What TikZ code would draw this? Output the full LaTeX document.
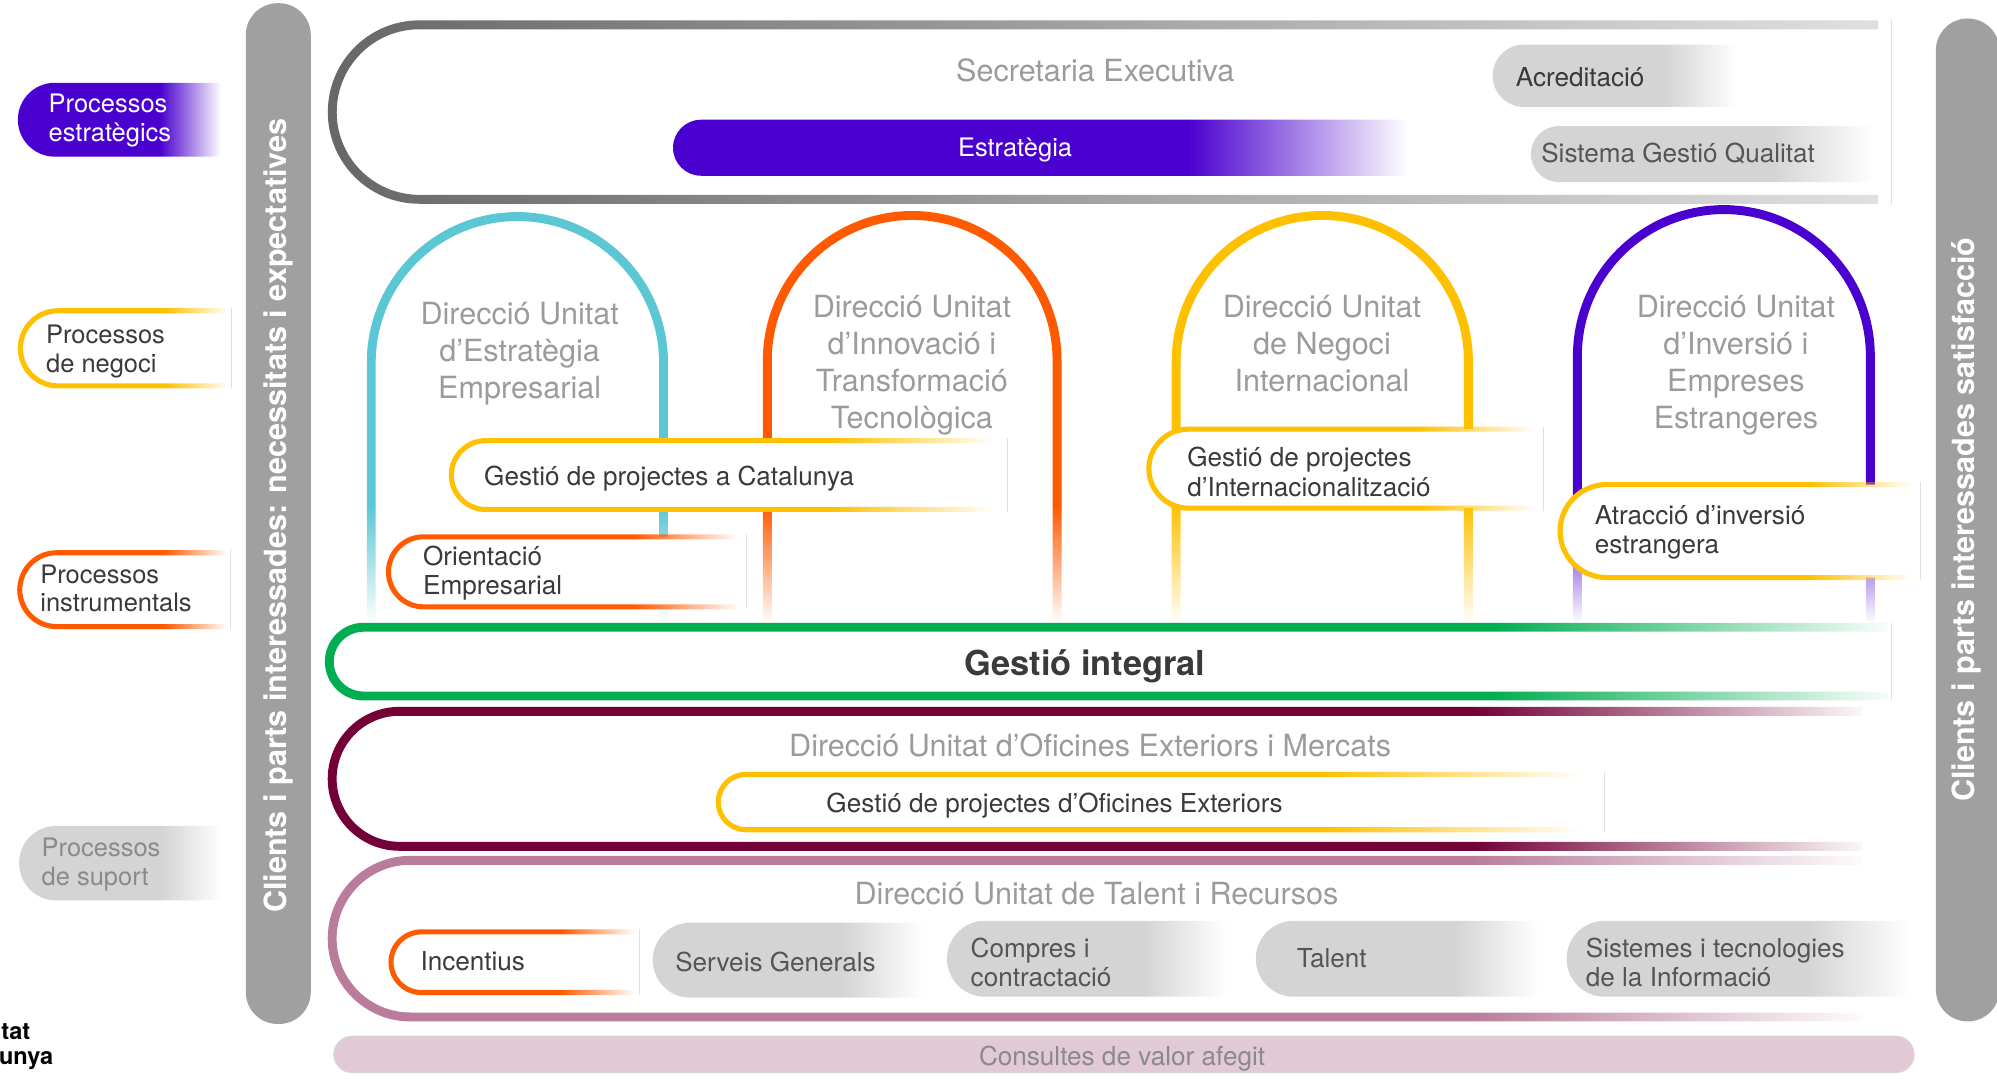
\documentclass[tikz,border=0pt]{standalone}
\usepackage{fontspec}
\setmainfont{TeX Gyre Heros}
\usetikzlibrary{fadings}

\definecolor{morat}{HTML}{4A00CE}
\definecolor{groc}{HTML}{FFC000}
\definecolor{taronja}{HTML}{FF5A00}
\definecolor{cian}{HTML}{5BC6D4}
\definecolor{verd}{HTML}{00AD50}
\definecolor{grana}{HTML}{730036}
\definecolor{malva}{HTML}{B97D9B}
\definecolor{rosa}{HTML}{E2C9D6}
\definecolor{barra}{HTML}{A0A0A0}
\definecolor{gris}{HTML}{D4D4D4}
\definecolor{grisvora}{HTML}{676767}
\definecolor{titolgris}{HTML}{9B9B9B}
\definecolor{grisclar}{HTML}{8A8A8A}
\definecolor{fosc}{HTML}{3A3A3A}
\definecolor{mitja}{HTML}{555555}

% esvaits cap a la dreta i cap avall (el camí ocupa de 25bp a 75bp)
\pgfdeclarehorizontalshading{ombrapindola}{100bp}{rgb(0bp)=(1,1,1); rgb(59bp)=(1,1,1); rgb(73.5bp)=(0,0,0); rgb(100bp)=(0,0,0)}
\pgfdeclarehorizontalshading{ombrafranja}{100bp}{rgb(0bp)=(1,1,1); rgb(62bp)=(1,1,1); rgb(75bp)=(0,0,0); rgb(100bp)=(0,0,0)}
\pgfdeclarehorizontalshading{ombragris}{100bp}{rgb(0bp)=(1,1,1); rgb(25bp)=(1,1,1); rgb(75bp)=(0.2,0.2,0.2); rgb(100bp)=(0.2,0.2,0.2)}
\pgfdeclareverticalshading{ombracolumna}{100bp}{rgb(0bp)=(0,0,0); rgb(26bp)=(0,0,0); rgb(40bp)=(1,1,1); rgb(100bp)=(1,1,1)}
\tikzfading[name=esvairpindola, shading=ombrapindola]
\tikzfading[name=esvairfranja, shading=ombrafranja]
\tikzfading[name=esvairgris, shading=ombragris]
\tikzfading[name=esvaircolumna, shading=ombracolumna]

\tikzstyle{titol} = [text=titolgris, font=\fontsize{24}{29}\selectfont, align=center, inner sep=0pt]
\tikzstyle{proces} = [text=fosc, font=\fontsize{20.5}{23}\selectfont, align=left, anchor=west, inner sep=0pt, yshift=-2.5pt]
\tikzstyle{llegenda} = [font=\fontsize{20}{22.5}\selectfont, align=left, anchor=west, inner sep=0pt, yshift=-2.5pt]
\tikzstyle{lateral} = [text=white, font=\bfseries\fontsize{24}{28}\selectfont, rotate=90, inner sep=0pt]
\tikzstyle{columna} = [line width=7pt, path fading=esvaircolumna]
\tikzstyle{franja} = [line width=7pt, path fading=esvairfranja]
\tikzstyle{contorn} = [line width=4pt, path fading=esvairpindola]
\tikzstyle{farciment} = [path fading=esvairpindola]
\tikzstyle{vora} = [line width=0.6pt, black!12]

\begin{document}
\begin{tikzpicture}[x=1pt, y=-1pt]
\useasboundingbox (0,0) rectangle (1568,849);

% llegenda
\fill[morat, rounded corners=29pt, farciment] (178,65) -- (14,65) -- (14,123) -- (178,123);
\node (pestrat) at (38,92) [llegenda, text=white] {Processos\\estratègics};
\draw[vora] (182,242) -- (182,305);
\draw[groc, contorn, rounded corners=29.5pt] (182,244) -- (16,244) -- (16,303) -- (182,303);
\node (pnegoci) at (36,273.5) [llegenda, text=fosc] {Processos\\de negoci};
\draw[vora] (181,432) -- (181,494);
\draw[taronja, contorn, rounded corners=29pt] (181,434) -- (15.5,434) -- (15.5,492) -- (181,492);
\node (pinstr) at (31.5,459.5) [llegenda, text=fosc] {Processos\\instrumentals};
\fill[gris, rounded corners=29pt, farciment] (179,648.5) -- (15,648.5) -- (15,707) -- (179,707);
\node (psuport) at (32.5,676.5) [llegenda, text=grisclar] {Processos\\de suport};

% barres laterals
\fill[barra, rounded corners=25pt] (193,2.5) rectangle (244,804);
\node (necessitats) at (218.5,405) [lateral] {Clients i parts interessades: necessitats i expectatives};
\fill[barra, rounded corners=25pt] (1520,14.5) rectangle (1570,802);
\node (satisfaccio) at (1544,408) [lateral] {Clients i parts interessades satisfacció};

% secretaria
\draw[vora] (1485,15) -- (1485,161);
\draw[grisvora, line width=7pt, rounded corners=68.5pt, path fading=esvairgris] (1478,19.5) -- (262,19.5) -- (262,156.5) -- (1478,156.5);
\node (secretaria) at (860,55) [titol] {Secretaria Executiva};
\fill[morat, rounded corners=22pt, farciment] (1122,94) -- (528.5,94) -- (528.5,138) -- (1122,138);
\node (estrategia) at (797,115.5) [llegenda, anchor=center, text=white] {Estratègia};
\fill[gris, rounded corners=24.5pt, farciment] (1370,35) -- (1172,35) -- (1172,84) -- (1370,84);
\node (acreditacio) at (1190,58) [proces] {Acreditació};
\fill[gris, rounded corners=22pt, farciment] (1480,99) -- (1202,99) -- (1202,143) -- (1480,143);
\node (qualitat) at (1210,118) [proces, text=mitja] {Sistema Gestió Qualitat};

% direccions de negoci
\draw[cian, columna, rounded corners=114.75pt] (291.5,492) -- (291.5,170) -- (521,170) -- (521,492);
\draw[taronja, columna, rounded corners=113.75pt] (602.5,492) -- (602.5,169) -- (830,169) -- (830,492);
\draw[groc, columna, rounded corners=114.75pt] (923.5,492) -- (923.5,169) -- (1153,169) -- (1153,492);
\draw[morat, columna, rounded corners=115pt] (1238.5,492) -- (1238.5,164.5) -- (1468.5,164.5) -- (1468.5,492);
\node (dempresarial) at (408,278) [titol] {Direcció Unitat\\d’Estratègia\\Empresarial};
\node (dinnovacio) at (716,286.5) [titol] {Direcció Unitat\\d’Innovació i\\Transformació\\Tecnològica};
\node (dnegoci) at (1038,270) [titol] {Direcció Unitat\\de Negoci\\Internacional};
\node (dinversio) at (1363,286.5) [titol] {Direcció Unitat\\d’Inversió i\\Empreses\\Estrangeres};

% processos
\fill[white, rounded corners=27pt] (791,346) -- (354.5,346) -- (354.5,400) -- (791,400);
\draw[vora] (791,344) -- (791,402);
\draw[groc, contorn, rounded corners=27pt] (791,346) -- (354.5,346) -- (354.5,400) -- (791,400);
\node (catalunya) at (380,373) [proces] {Gestió de projectes a Catalunya};

\fill[white, rounded corners=27.5pt] (586,421.5) -- (305,421.5) -- (305,476.5) -- (586,476.5);
\draw[vora] (586,419.5) -- (586,478.5);
\draw[taronja, contorn, rounded corners=27.5pt] (586,421.5) -- (305,421.5) -- (305,476.5) -- (586,476.5);
\node (orientacio) at (332,447.5) [proces] {Orientació\\Empresarial};

\fill[white, rounded corners=31pt] (1212,337) -- (902,337) -- (902,399) -- (1212,399);
\draw[vora] (1212,335) -- (1212,401);
\draw[groc, contorn, rounded corners=31pt] (1212,337) -- (902,337) -- (902,399) -- (1212,399);
\node (internacional) at (932,368) [proces] {Gestió de projectes\\d’Internacionalització};

\fill[white, rounded corners=36.5pt] (1508,380.5) -- (1225,380.5) -- (1225,453.5) -- (1508,453.5);
\draw[vora] (1508,378.5) -- (1508,455.5);
\draw[groc, contorn, rounded corners=36.5pt] (1508,380.5) -- (1225,380.5) -- (1225,453.5) -- (1508,453.5);
\node (atraccio) at (1252,415.5) [proces] {Atracció d’inversió\\estrangera};

% gestio integral
\draw[vora] (1485,489) -- (1485,550);
\draw[verd, franja, rounded corners=27pt] (1485,492.5) -- (259.5,492.5) -- (259.5,546.5) -- (1485,546.5);
\node (integral) at (852,523) [text=fosc, font=\bfseries\fontsize{27}{30}\selectfont, inner sep=0pt] {Gestió integral};

% oficines exteriors
\draw[grana, franja, rounded corners=53pt] (1466,558.5) -- (262,558.5) -- (262,664.5) -- (1466,664.5);
\node (doficines) at (856,585) [titol] {Direcció Unitat d’Oficines Exteriors i Mercats};
\fill[white, rounded corners=21.75pt] (1260,608) -- (564,608) -- (564,651.5) -- (1260,651.5);
\draw[vora] (1260,606) -- (1260,653.5);
\draw[groc, contorn, rounded corners=21.75pt] (1260,608) -- (564,608) -- (564,651.5) -- (1260,651.5);
\node (oficines) at (828,630) [proces, anchor=center] {Gestió de projectes d’Oficines Exteriors};

% talent i recursos
\draw[malva, franja, rounded corners=61.5pt] (1466,675.5) -- (262,675.5) -- (262,798.5) -- (1466,798.5);
\node (dtalent) at (861,702) [titol] {Direcció Unitat de Talent i Recursos};
\draw[vora] (502,729.7) -- (502,781.3);
\draw[taronja, contorn, rounded corners=23.8pt] (502,731.7) -- (307,731.7) -- (307,779.3) -- (502,779.3);
\node (incentius) at (330,752.5) [proces] {Incentius};
\fill[gris, rounded corners=29.4pt, farciment] (731,724.5) -- (512.5,724.5) -- (512.5,783.3) -- (731,783.3);
\node (serveis) at (530,752.5) [proces, text=mitja] {Serveis Generals};
\fill[gris, rounded corners=29.8pt, farciment] (970,723) -- (743.5,723) -- (743.5,782.6) -- (970,782.6);
\node (compres) at (762,753) [proces, text=mitja] {Compres i\\contractació};
\fill[gris, rounded corners=29.8pt, farciment] (1215,723) -- (986,723) -- (986,782.6) -- (1215,782.6);
\node (talent) at (1018,749.5) [proces, text=mitja] {Talent};
\fill[gris, rounded corners=29.8pt, farciment] (1508,723) -- (1230,723) -- (1230,782.6) -- (1508,782.6);
\node (sistemes) at (1245,753) [proces, text=mitja] {Sistemes i tecnologies\\de la Informació};

% consultes
\path[fill=rosa, draw=black!15, line width=0.6pt, rounded corners=14.4pt] (262,813.5) rectangle (1503,842.3);
\node (consultes) at (881,829) [proces, anchor=center, text=grisclar] {Consultes de valor afegit};

% logotip tallat
\node (logoa) at (24,816) [anchor=base east, inner sep=0pt, font=\bfseries\fontsize{18.5}{20}\selectfont] {tat};
\node (logob) at (42,835.5) [anchor=base east, inner sep=0pt, font=\bfseries\fontsize{18.5}{20}\selectfont] {unya};

\end{tikzpicture}
\end{document}
